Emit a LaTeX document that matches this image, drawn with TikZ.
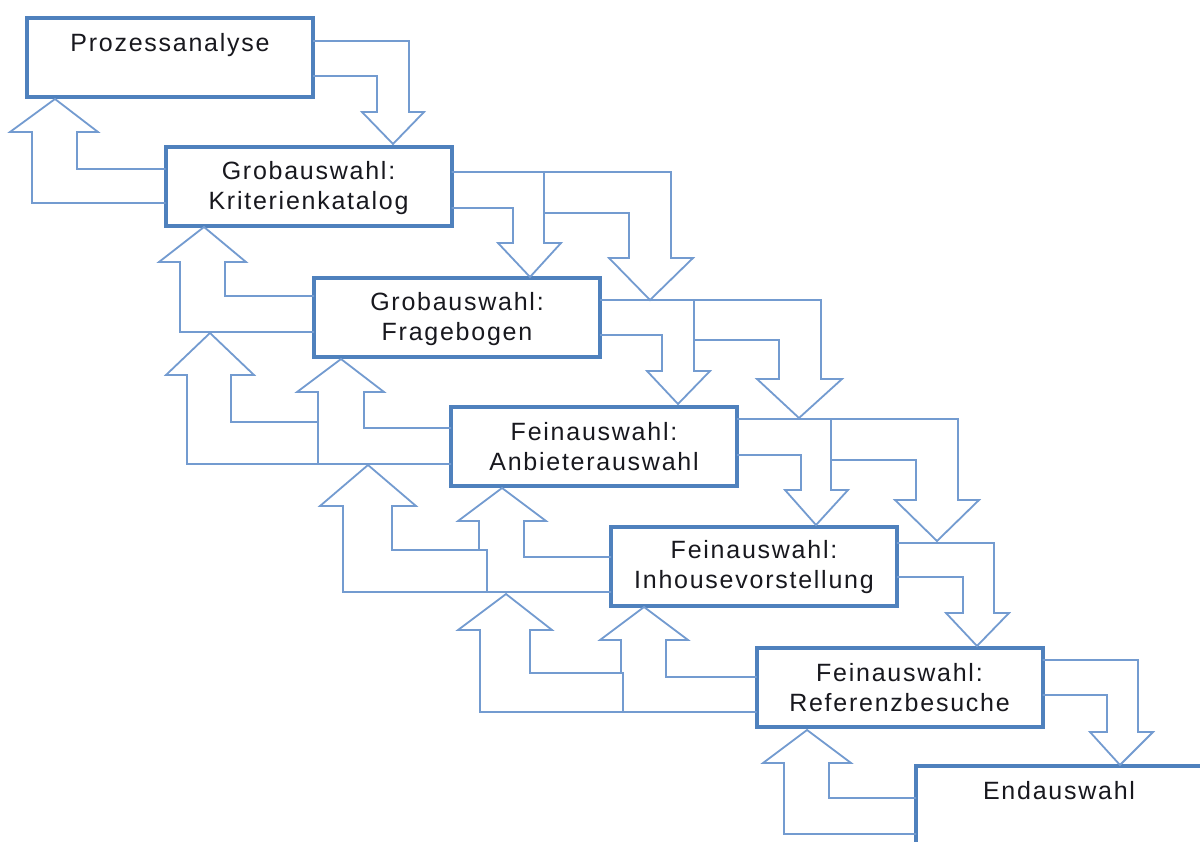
\documentclass[tikz,border=0pt]{standalone}
\usepackage{fontspec}
\setmainfont{Liberation Sans}[LetterSpace=7]
\definecolor{boxblue}{RGB}{79,129,189}
\definecolor{arrowblue}{RGB}{115,155,208}
\definecolor{textcol}{RGB}{24,24,30}
\newcommand\lowstrut{\rule[-3pt]{0pt}{3pt}}
\tikzset{
  box/.style={draw=boxblue, line width=4pt, fill=white, minimum width=286pt,
    minimum height=79pt, inner sep=0pt, outer sep=0pt, align=center,
    text=textcol, font=\fontsize{25}{30}\selectfont},
  arr/.style={draw=arrowblue, line width=1.8pt, line join=miter}
}
\begin{document}
\begin{tikzpicture}[x=1pt, y=-1pt]
\useasboundingbox (0,0) rectangle (1200,842);
\fill[white] (0,0) rectangle (1200,842);
\clip (0,0) rectangle (1200,842);
\path
  (170,57.5)   coordinate (c1)
  (308.5,187)  coordinate (c2)
  (457,318)    coordinate (c3)
  (594,446.5)  coordinate (c4)
  (754,566)    coordinate (c5)
  (899.5,687.5) coordinate (c6)
  (1059,805.5) coordinate (c7);
\node[box] (b1) at (c1) {\strut Prozessanalyse\\\lowstrut};
\node[box] (b2) at (c2) {\strut Grobauswahl:\\Kriterienkatalog\lowstrut};
\node[box] (b3) at (c3) {\strut Grobauswahl:\\Fragebogen\lowstrut};
\node[box] (b4) at (c4) {\strut Feinauswahl:\\Anbieterauswahl\lowstrut};
\node[box] (b5) at (c5) {\strut Feinauswahl:\\Inhousevorstellung\lowstrut};
\node[box] (b6) at (c6) {\strut Feinauswahl:\\Referenzbesuche\lowstrut};
\node[box] (b7) at (c7) {\strut Endauswahl\\\lowstrut};
% downward arrows
\draw[arr] (b1.east |- 0,41) -- (409,41) -- (409,112) -- (424,112) -- (393,144) -- (362,112) -- (377,112) -- (377,76) -- (b1.east |- 0,76);
\draw[arr] (544,213) -- (629,213) -- (629,258) -- (609,258) -- (650,300) -- (693,258) -- (671,258) -- (671,172) -- (544,172);
\draw[arr] (b2.east |- 0,172) -- (544,172) -- (544,243) -- (561,243) -- (530,277) -- (498,243) -- (513,243) -- (513,208) -- (b2.east |- 0,208);
\draw[arr] (694,340) -- (779,340) -- (779,379) -- (757,379) -- (799,418) -- (842,379) -- (821,379) -- (821,300) -- (694,300);
\draw[arr] (b3.east |- 0,300) -- (694,300) -- (694,371) -- (710,371) -- (678,404) -- (647,371) -- (662,371) -- (662,335) -- (b3.east |- 0,335);
\draw[arr] (831,460) -- (916,460) -- (916,500) -- (895,500) -- (937,541) -- (979,500) -- (958,500) -- (958,419) -- (831,419);
\draw[arr] (b4.east |- 0,419) -- (831,419) -- (831,490) -- (848,490) -- (816,525) -- (785,490) -- (801,490) -- (801,455) -- (b4.east |- 0,455);
\draw[arr] (b5.east |- 0,543) -- (994,543) -- (994,613) -- (1009,613) -- (977,646) -- (946,613) -- (963,613) -- (963,577) -- (b5.east |- 0,577);
\draw[arr] (b6.east |- 0,660) -- (1138,660) -- (1138,732) -- (1153,732) -- (1120,765) -- (1090,732) -- (1107,732) -- (1107,695) -- (b6.east |- 0,695);
% upward arrows
\draw[arr] (b2.west |- 0,169) -- (77,169) -- (77,132) -- (98,132) -- (55,99) -- (10,132) -- (32,132) -- (32,203) -- (b2.west |- 0,203);
\draw[arr] (b3.west |- 0,296) -- (225,296) -- (225,262) -- (246,262) -- (204,227) -- (159,262) -- (180,262) -- (180,332) -- (b3.west |- 0,332);
\draw[arr] (318,422) -- (231,422) -- (231,375) -- (254,375) -- (210,333) -- (166,375) -- (187,375) -- (187,464) -- (b4.west |- 0,464);
\draw[arr] (b4.west |- 0,428) -- (364,428) -- (364,392) -- (384,392) -- (341,359) -- (297,392) -- (318,392) -- (318,464);
\draw[arr] (487,592) -- (487,550) -- (392,550) -- (392,506) -- (416,506) -- (368,465) -- (320,506) -- (343,506) -- (343,592) -- (b5.west |- 0,592);
\draw[arr] (b5.west |- 0,557) -- (524,557) -- (524,521) -- (546,521) -- (502,488) -- (458,521) -- (479,521) -- (479,550);
\draw[arr] (623,712) -- (623,673) -- (530,673) -- (530,630) -- (552,630) -- (506,594) -- (458,630) -- (480,630) -- (480,712) -- (b6.west |- 0,712);
\draw[arr] (b6.west |- 0,677) -- (666,677) -- (666,640) -- (688,640) -- (644,607) -- (600,640) -- (621,640) -- (621,673);
\draw[arr] (b7.west |- 0,798) -- (829,798) -- (829,763) -- (851,763) -- (807,730) -- (763,763) -- (784,763) -- (784,834) -- (b7.west |- 0,834);
\end{tikzpicture}
\end{document}
